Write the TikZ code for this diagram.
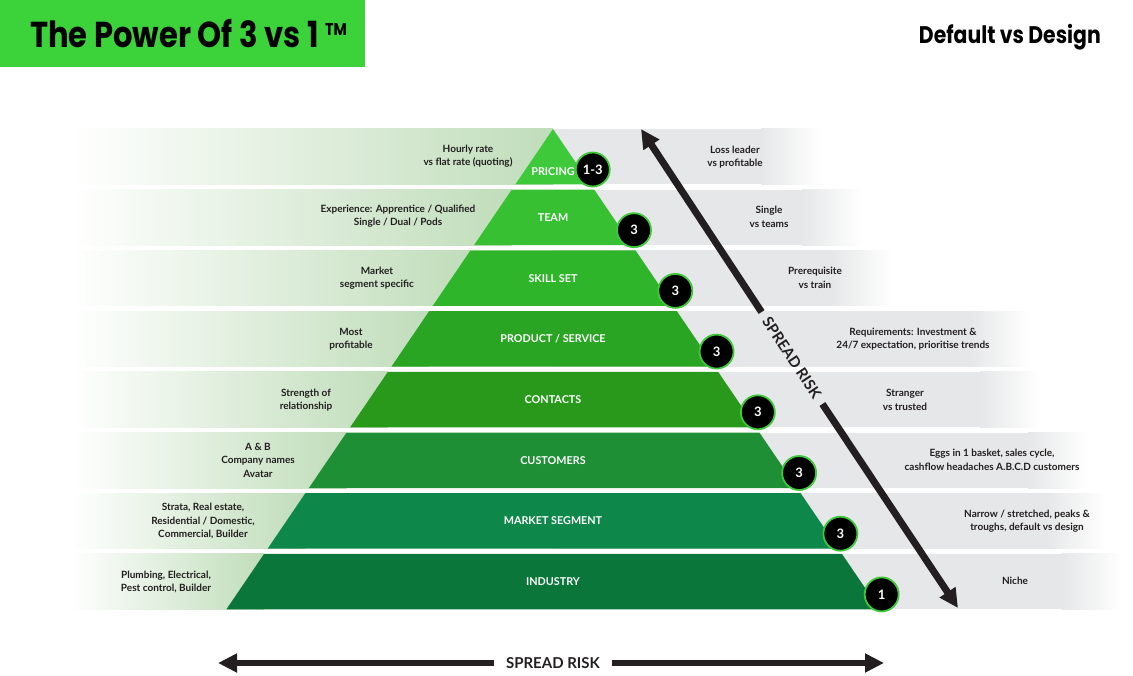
\documentclass[tikz,border=0pt]{standalone}
\usepackage{fontspec}
\setmainfont{Lato}
\newfontfamily\headfont[FakeStretch=0.85]{Poppins}
\usetikzlibrary{arrows.meta,positioning}
\definecolor{titleGreen}{HTML}{3CD23A}
\definecolor{pyrA}{HTML}{3DC93A}
\definecolor{pyrB}{HTML}{36C032}
\definecolor{pyrC}{HTML}{2FB52A}
\definecolor{pyrD}{HTML}{2AA523}
\definecolor{pyrE}{HTML}{29991C}
\definecolor{pyrF}{HTML}{1E8F35}
\definecolor{pyrG}{HTML}{0E874A}
\definecolor{pyrH}{HTML}{0B763A}
\definecolor{bandGreen}{HTML}{C0DDBA}
\definecolor{bandGray}{HTML}{E6E7E8}
\definecolor{riskBlack}{HTML}{231F20}

\begin{document}
\begin{tikzpicture}[x=1pt, y=-1pt,
    note/.style={font=\bfseries\fontsize{10}{13.5}\selectfont, align=center, text=riskBlack, inner sep=0pt},
    tier/.style={font=\bfseries\fontsize{10.8}{12}\selectfont, text=white, inner sep=0pt},
    count/.style={circle, fill=black, draw=pyrA, line width=1.8pt, minimum size=34pt, inner sep=0pt,
                  text=white, font=\bfseries\fontsize{13}{13}\selectfont},
    risklabel/.style={font=\bfseries\fontsize{15}{15}\selectfont, text=riskBlack, inner ysep=0pt},
    riskarrow/.style={draw=riskBlack, -{Triangle[width=18pt,length=19pt]}}
]
    \useasboundingbox (0,0) rectangle (1133,676);

    % title boxes
    \fill[titleGreen] (0,0) rectangle (365,67);
    \node[font=\headfont\bfseries\fontsize{36}{36}\selectfont, anchor=base west, inner sep=0pt] (title) at (30,48)
        {The Power Of 3 vs 1 \raisebox{12pt}{\fontsize{17}{17}\selectfont TM}};
    \node[font=\headfont\bfseries\fontsize{24}{24}\selectfont, anchor=base east, inner sep=0pt] (subtitle) at (1101,44)
        {Default vs Design};

    % bands and pyramid slices
    \foreach \k/\pcol/\fade/\tiername/\num in {1/pyrA/821/PRICING/1-3, 2/pyrB/862/TEAM/3,
        3/pyrC/892/SKILL SET/3, 4/pyrD/1030/{PRODUCT / SERVICE}/3, 5/pyrE/1040/CONTACTS/3,
        6/pyrF/1088/CUSTOMERS/3, 7/pyrG/1106/MARKET SEGMENT/3, 8/pyrH/1122/INDUSTRY/1} {
        \pgfmathsetmacro\yt{129+60.7*(\k-1)}
        \pgfmathsetmacro\yb{\yt+55.5}
        \pgfmathsetmacro\xlt{553-0.68*(\yt-129)}
        \pgfmathsetmacro\xrt{553+0.68*(\yt-129)}
        \pgfmathsetmacro\xlb{553-0.68*(\yb-129)}
        \pgfmathsetmacro\xrb{553+0.68*(\yb-129)}
        \pgfmathsetmacro\ylab{ifthenelse(\k==1,172,\yt+27.75)}
        \shade[left color=white, right color=bandGreen] (70,\yt) rectangle (\xlt,\yb);
        \fill[bandGray] (553,\yt) rectangle (\fade-60,\yb);
        \shade[left color=bandGray, right color=white] (\fade-60,\yt) rectangle (\fade,\yb);
        \fill[\pcol] (\xlt,\yt) -- (\xrt,\yt) -- (\xrb,\yb) -- (\xlb,\yb) -- cycle;
        \node[tier] (tier\k) at (553,\ylab) {\tiername};
        \node[count] (num\k) at (\xrb+2,\yb-15) {\num};
    }

    % left notes
    \node[note] (lnote1) at (468,156) {Hourly rate\\vs flat rate (quoting)};
    \node[note] (lnote2) at (398,216) {Experience: Apprentice / Qualified\\Single / Dual / Pods};
    \node[note] (lnote3) at (377,278) {Market\\segment specific};
    \node[note] (lnote4) at (351,339) {Most\\profitable};
    \node[note] (lnote5) at (306,400) {Strength of\\relationship};
    \node[note] (lnote6) at (258,460) {A \& B\\Company names\\Avatar};
    \node[note] (lnote7) at (203,521) {Strata, Real estate,\\Residential / Domestic,\\Commercial, Builder};
    \node[note] (lnote8) at (166,582) {Plumbing, Electrical,\\Pest control, Builder};

    % right notes
    \node[note] (rnote1) at (735,157) {Loss leader\\vs profitable};
    \node[note] (rnote2) at (769,217) {Single\\vs teams};
    \node[note] (rnote3) at (815,278) {Prerequisite\\vs train};
    \node[note] (rnote4) at (913,339) {Requirements: Investment \&\\24/7 expectation, prioritise trends};
    \node[note] (rnote5) at (905,400) {Stranger\\vs trusted};
    \node[note] (rnote6) at (992,460) {Eggs in 1 basket, sales cycle,\\cashflow headaches A.B.C.D customers};
    \node[note] (rnote7) at (1027,521) {Narrow / stretched, peaks \&\\troughs, default vs design};
    \node[note] (rnote8) at (1015,581) {Niche};

    % spread risk arrows
    \node[risklabel, rotate=-56.5, inner xsep=8pt] (riskd) at (792,358) {SPREAD RISK};
    \coordinate (dtop) at (641,129);
    \coordinate (dbot) at (958,608);
    \draw[riskarrow, line width=7pt] (riskd.west) -- (dtop);
    \draw[riskarrow, line width=7pt] (riskd.east) -- (dbot);

    \node[risklabel, inner xsep=12pt] (riskh) at (553,663) {SPREAD RISK};
    \coordinate (hleft) at (218,663);
    \coordinate (hright) at (884,663);
    \draw[riskarrow, line width=6pt] (riskh.west) -- (hleft);
    \draw[riskarrow, line width=6pt] (riskh.east) -- (hright);
\end{tikzpicture}
\end{document}
